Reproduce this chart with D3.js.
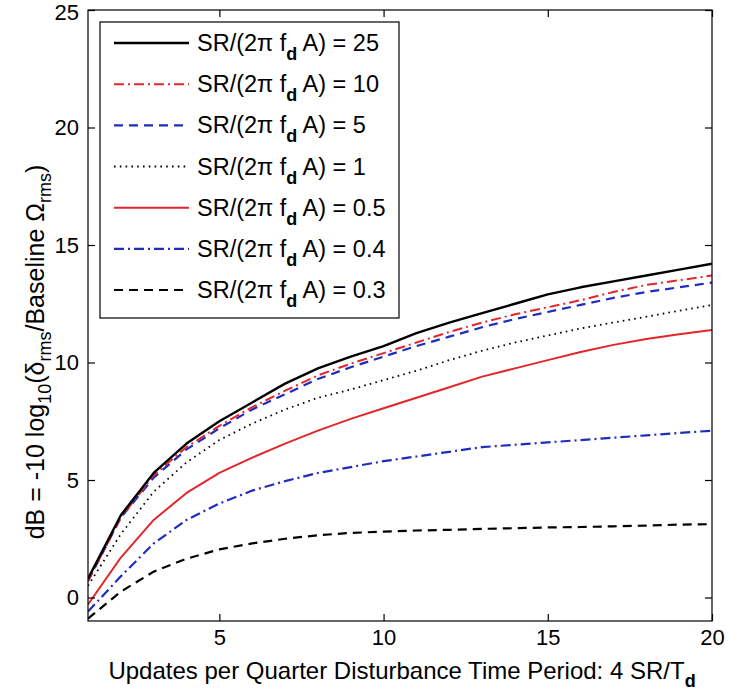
<!DOCTYPE html>
<html>
<head>
<meta charset="utf-8">
<script src="https://cdn.jsdelivr.net/npm/d3@7"></script>
<style>
  html, body { margin: 0; padding: 0; background: #fff; }
  svg { display: block; font-family: "Liberation Sans", Arial, sans-serif; }
</style>
</head>
<body>
<svg id="chart" width="729" height="692"></svg>
<script>
// Updates per quarter disturbance period (x)
const updates = [1, 2, 3, 4, 5, 6, 7, 8, 9, 10, 11, 12, 13, 14, 15, 16, 17, 18, 19, 20];

// Ratio SR/(2π f_d A) for each curve
const ratios = ["25", "10", "5", "1", "0.5", "0.4", "0.3"];

// dB improvement for each ratio
const db25  = [0.8, 3.5, 5.3, 6.55, 7.5, 8.3, 9.1, 9.75, 10.25, 10.7, 11.25, 11.7, 12.1, 12.5, 12.9, 13.2, 13.45, 13.7, 13.95, 14.2];
const db10  = [0.7, 3.4, 5.2, 6.4, 7.3, 8.1, 8.8, 9.45, 9.95, 10.4, 10.85, 11.3, 11.7, 12.05, 12.35, 12.65, 13.0, 13.3, 13.5, 13.7];
const db5   = [0.7, 3.4, 5.1, 6.3, 7.2, 8.0, 8.65, 9.3, 9.8, 10.25, 10.7, 11.1, 11.5, 11.85, 12.15, 12.45, 12.75, 13.0, 13.2, 13.4];
const db1   = [0.5, 2.7, 4.5, 5.75, 6.7, 7.4, 8.0, 8.5, 8.85, 9.25, 9.65, 10.1, 10.5, 10.85, 11.15, 11.45, 11.7, 11.95, 12.2, 12.45];
const db05  = [-0.3, 1.7, 3.3, 4.45, 5.3, 5.95, 6.55, 7.1, 7.6, 8.05, 8.5, 8.95, 9.4, 9.75, 10.1, 10.45, 10.75, 11.0, 11.2, 11.38];
const db04  = [-0.6, 0.9, 2.3, 3.3, 4.0, 4.55, 4.95, 5.3, 5.55, 5.8, 6.0, 6.2, 6.4, 6.5, 6.6, 6.7, 6.8, 6.9, 7.0, 7.1];
const db03  = [-0.9, 0.25, 1.1, 1.65, 2.05, 2.3, 2.5, 2.65, 2.75, 2.8, 2.85, 2.88, 2.92, 2.95, 2.98, 3.0, 3.03, 3.06, 3.1, 3.12];

const xTicks = [5, 10, 15, 20];
const yTicks = [0, 5, 10, 15, 20, 25];

const RED = "#e2262b", BLUE = "#1f2cc0", BLACK = "#000";
const seriesValues = [db25, db10, db5, db1, db05, db04, db03];
const styles = [
  { color: BLACK, dash: null,        width: 2.4 },
  { color: RED,   dash: "10,4,2,4",  width: 2 },
  { color: BLUE,  dash: "9,6",       width: 2.2 },
  { color: BLACK, dash: "1.6,4.2",   width: 1.8 },
  { color: RED,   dash: null,        width: 2 },
  { color: BLUE,  dash: "10,4,2,4",  width: 2.2 },
  { color: BLACK, dash: "9,6",       width: 2.2 }
];

const svg = d3.select("#chart");
const plotL = 88, plotR = 712, plotT = 10, plotB = 621;

const x = d3.scaleLinear().domain([1, 20]).range([plotL, plotR]);
const y = d3.scaleLinear().domain([-1, 25]).range([plotB, plotT]);

// Curves (clipped to the axes box)
svg.append("clipPath").attr("id", "plotClip")
  .append("rect").attr("x", plotL).attr("y", plotT).attr("width", plotR - plotL).attr("height", plotB - plotT);

const line = d3.line().x((d, i) => x(updates[i])).y(d => y(d));
const curves = svg.append("g").attr("clip-path", "url(#plotClip)");
// draw the lowest series first so the upper curves sit above
for (let k = seriesValues.length - 1; k >= 0; k--) {
  curves.append("path")
    .attr("d", line(seriesValues[k]))
    .attr("fill", "none")
    .attr("stroke", styles[k].color)
    .attr("stroke-width", styles[k].width)
    .attr("stroke-dasharray", styles[k].dash)
    .attr("stroke-linejoin", "round");
}

// Axes box with inward ticks on all four sides
const tickLen = 7;
svg.append("rect")
  .attr("x", plotL).attr("y", plotT).attr("width", plotR - plotL).attr("height", plotB - plotT)
  .attr("fill", "none").attr("stroke", "#000").attr("stroke-width", 1.2);

const bottomAxis = d3.axisBottom(x).tickValues(xTicks).tickSize(-tickLen).tickPadding(8).tickFormat(d3.format("d"));
const topAxis = d3.axisTop(x).tickValues(xTicks).tickSize(-tickLen).tickFormat("");
const leftAxis = d3.axisLeft(y).tickValues(yTicks).tickSize(-tickLen).tickPadding(9).tickFormat(d3.format("d"));
const rightAxis = d3.axisRight(y).tickValues(yTicks).tickSize(-tickLen).tickFormat("");

function styleAxis(g) {
  g.select(".domain").remove();
  g.selectAll(".tick line").attr("stroke", "#000").attr("stroke-width", 1.2);
  g.selectAll(".tick text").attr("fill", "#000").style("font-size", "22px")
    .style("font-family", "'Liberation Sans', Arial, sans-serif");
}
svg.append("g").attr("transform", `translate(0,${plotB})`).call(bottomAxis).call(styleAxis);
svg.append("g").attr("transform", `translate(0,${plotT})`).call(topAxis).call(styleAxis);
const yAxisG = svg.append("g").attr("transform", `translate(${plotL},0)`).call(leftAxis).call(styleAxis);
// keep the top label inside the page
yAxisG.selectAll(".tick text").filter(d => d === 25).attr("dy", "0.42em");
svg.append("g").attr("transform", `translate(${plotR},0)`).call(rightAxis).call(styleAxis);

// Axis titles
const xLabel = svg.append("text")
  .attr("x", (plotL + plotR) / 2 + 2).attr("y", 679)
  .attr("text-anchor", "middle").style("font-size", "24px").attr("fill", "#000");
xLabel.append("tspan").text("Updates per Quarter Disturbance Time Period: 4 SR/T");
xLabel.append("tspan").attr("dy", 8).style("font-size", "18px").style("font-weight", "bold").text("d");

const yLabel = svg.append("text")
  .attr("transform", `translate(44,352) rotate(-90)`)
  .attr("text-anchor", "middle").style("font-size", "25px").attr("fill", "#000");
yLabel.append("tspan").text("dB = -10 log");
yLabel.append("tspan").attr("dy", 7).style("font-size", "18px").text("10");
yLabel.append("tspan").attr("dy", -7).text("(δ");
yLabel.append("tspan").attr("dy", 7).style("font-size", "18px").text("rms");
yLabel.append("tspan").attr("dy", -7).text("/Baseline Ω");
yLabel.append("tspan").attr("dy", 7).style("font-size", "18px").text("rms");
yLabel.append("tspan").attr("dy", -7).text(")");

// Legend
const legend = svg.append("g");
legend.append("rect")
  .attr("x", 100).attr("y", 22).attr("width", 299).attr("height", 296)
  .attr("fill", "#fff").attr("stroke", "#000").attr("stroke-width", 1.2);

const rowY = d3.scaleLinear().domain([0, ratios.length - 1]).range([43, 290]);
ratios.forEach((r, k) => {
  const cy = rowY(k);
  legend.append("line")
    .attr("x1", 114).attr("x2", 189).attr("y1", cy).attr("y2", cy)
    .attr("stroke", styles[k].color)
    .attr("stroke-width", styles[k].width)
    .attr("stroke-dasharray", styles[k].dash);
  const t = legend.append("text")
    .attr("x", 197).attr("y", cy + 8)
    .style("font-size", "23.5px").attr("fill", "#000");
  t.append("tspan").text("SR/(2π f");
  t.append("tspan").attr("dy", 9).style("font-size", "18px").style("font-weight", "bold").text("d");
  t.append("tspan").attr("dy", -9).text(" A) = " + r);
});
</script>
</body>
</html>
